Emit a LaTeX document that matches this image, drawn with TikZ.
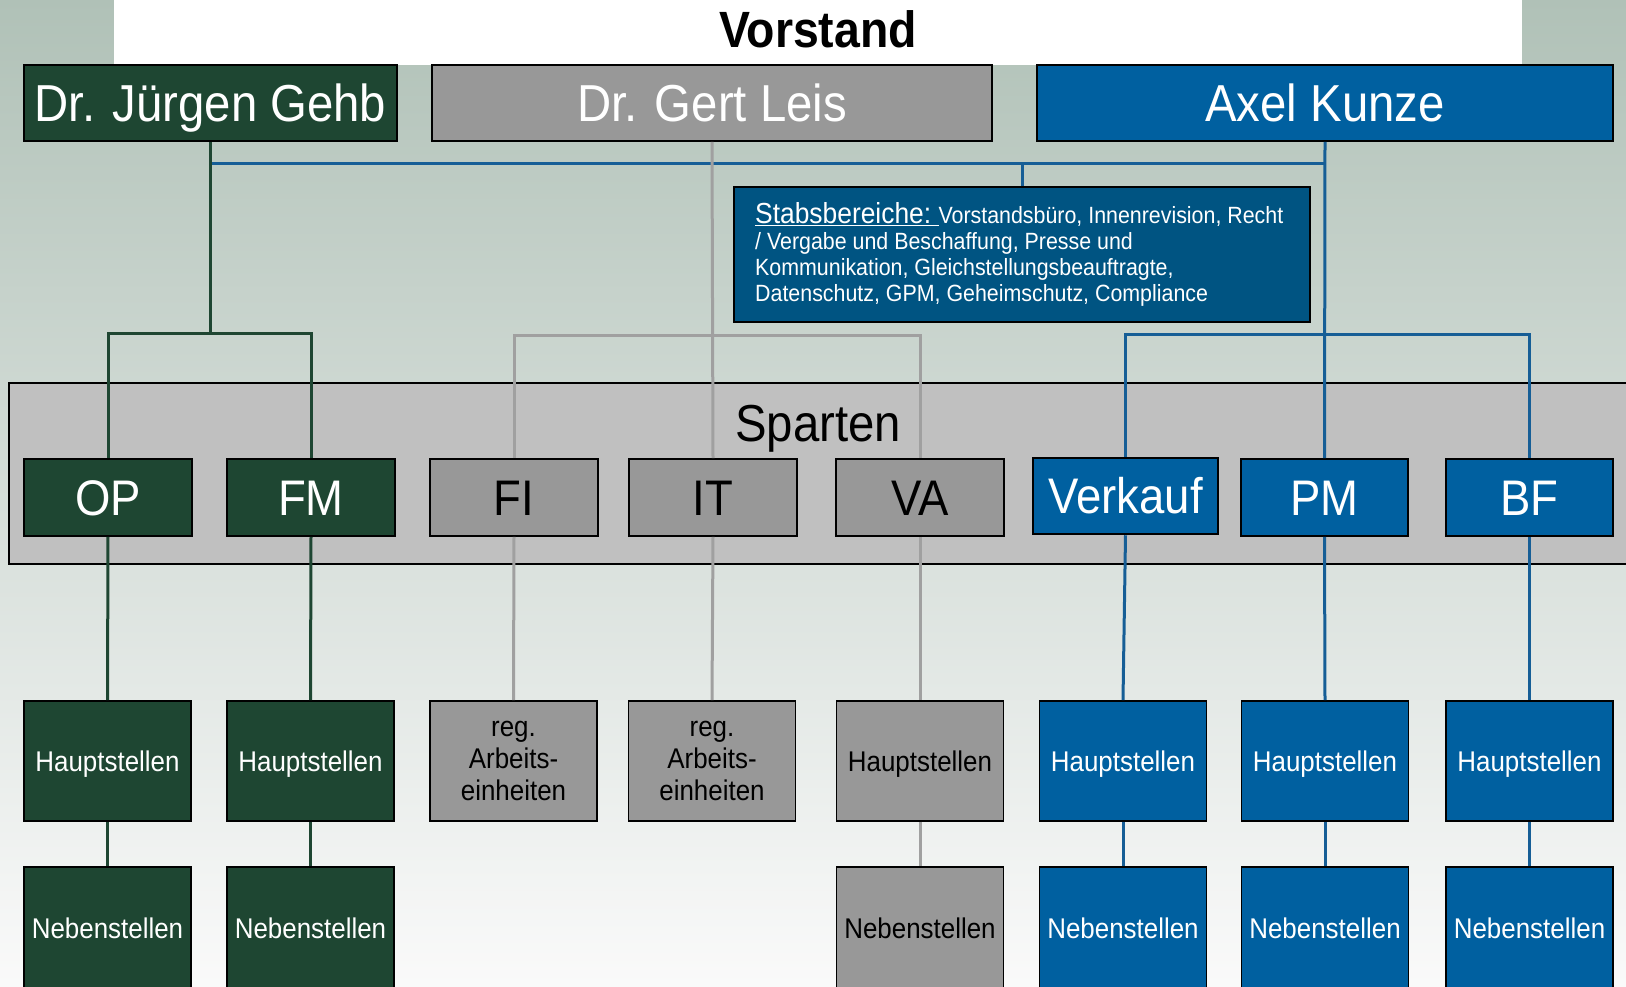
\documentclass[tikz,border=0pt]{standalone}
\usepackage{fontspec}
\setmainfont[FakeStretch=0.91]{Liberation Sans}
\definecolor{dgreen}{RGB}{30,70,50}
\definecolor{mgray}{RGB}{152,152,152}
\definecolor{mblue}{RGB}{0,96,160}
\definecolor{sblue}{RGB}{0,84,130}
\definecolor{lgray}{RGB}{160,160,160}
\definecolor{lblue}{RGB}{22,94,150}
\definecolor{bandgray}{RGB}{192,192,192}
\definecolor{bgtop}{RGB}{176,193,183}
\definecolor{bgbot}{RGB}{250,250,250}
\begin{document}
\begin{tikzpicture}[x=1pt,y=1pt,
  nbox/.style={draw=black, line width=1.6pt, inner sep=0pt, rectangle},
  gbox/.style={nbox, fill=dgreen, text=white},
  ybox/.style={nbox, fill=mgray, text=black},
  bbox/.style={nbox, fill=mblue, text=white},
  fbig/.style={font=\fontsize{52}{60}\selectfont, text height=37.2pt, text depth=0pt},
  fmid/.style={font=\fontsize{50}{58}\selectfont, text height=35.8pt, text depth=0pt},
  fsmall/.style={font=\fontsize{28.5}{32.3}\selectfont, text height=20.4pt, text depth=0pt},
  toprow/.style={fbig, minimum height=76pt},
  spartebox/.style={fmid, minimum width=168pt, minimum height=77pt},
  unitbox/.style={fsmall, minimum width=167pt, minimum height=120pt},
  nebbox/.style={fsmall, minimum width=167pt, minimum height=123pt},
  regbox/.style={font=\fontsize{28.5}{32.3}\selectfont, align=center, minimum width=167pt, minimum height=120pt},
  gline/.style={draw=dgreen, line width=3pt},
  yline/.style={draw=lgray, line width=3pt},
  bline/.style={draw=lblue, line width=3pt},
]
\useasboundingbox (0,0) rectangle (1626,-986);
\clip (0,0) rectangle (1626,-986);
% background
\shade[top color=bgtop, bottom color=bgbot] (0,0) rectangle (1626,-986);
\fill[white] (114,0) rectangle (1522,-65);
\node[font=\bfseries\fontsize{51}{60}\selectfont, anchor=base, inner sep=0pt] (vorstand) at (818,-47) {Vorstand};
% Sparten band
\path[draw=black, line width=1.6pt, fill=bandgray] (9,-383) rectangle (1640,-564);
\node[font=\fontsize{52}{60}\selectfont, anchor=base, inner sep=0pt] (sparten) at (818,-441) {Sparten};

% top row
\node[gbox, toprow, minimum width=373pt] (gehb) at (210.5,-103) {Dr. Jürgen Gehb};
\node[ybox, toprow, minimum width=560pt, text=white] (leis) at (712,-103) {Dr. Gert Leis};
\node[bbox, toprow, minimum width=576pt] (kunze) at (1325,-103) {Axel Kunze};

% Stabsbereiche
\node[nbox, fill=sblue, minimum width=576pt, minimum height=135pt] (stab) at (1022,-254.5) {};
\node[anchor=north west, inner sep=0pt, align=left, text=white, font=\fontsize{23.5}{26}\selectfont] (stabtext) at (755,-202)
  {{\fontsize{29}{26}\selectfont\underline{Stabsbereiche:\ }}Vorstandsbüro, Innenrevision, Recht\\
   / Vergabe und Beschaffung, Presse und\\
   Kommunikation, Gleichstellungsbeauftragte,\\
   Datenschutz, GPM, Geheimschutz, Compliance};

% Sparten row
\node[gbox, spartebox] (op) at (108,-497.5) {OP};
\node[gbox, spartebox] (fm) at (311,-497.5) {FM};
\node[ybox, spartebox] (fi) at (514,-497.5) {FI};
\node[ybox, spartebox] (it) at (713,-497.5) {IT};
\node[ybox, spartebox] (va) at (920,-497.5) {VA};
\node[bbox, spartebox, minimum width=185pt, minimum height=76pt, line width=2.5pt] (verkauf) at (1125.5,-496) {Verkauf};
\node[bbox, spartebox, minimum width=167pt] (pm) at (1324.5,-497.5) {PM};
\node[bbox, spartebox, minimum width=167pt] (bf) at (1529.5,-497.5) {BF};

% Hauptstellen row
\node[gbox, unitbox] (h1) at (107.5,-761) {Hauptstellen};
\node[gbox, unitbox] (h2) at (310.5,-761) {Hauptstellen};
\node[ybox, regbox] (h3) at (513.5,-761) {reg.\\Arbeits-\\einheiten};
\node[ybox, regbox] (h4) at (712,-761) {reg.\\Arbeits-\\einheiten};
\node[ybox, unitbox] (h5) at (920,-761) {Hauptstellen};
\node[bbox, unitbox] (h6) at (1123,-761) {Hauptstellen};
\node[bbox, unitbox] (h7) at (1325,-761) {Hauptstellen};
\node[bbox, unitbox] (h8) at (1529.5,-761) {Hauptstellen};

% Nebenstellen row
\node[gbox, nebbox] (n1) at (107.5,-928.5) {Nebenstellen};
\node[gbox, nebbox] (n2) at (310.5,-928.5) {Nebenstellen};
\node[ybox, nebbox] (n5) at (920,-928.5) {Nebenstellen};
\node[bbox, nebbox] (n6) at (1123,-928.5) {Nebenstellen};
\node[bbox, nebbox] (n7) at (1325,-928.5) {Nebenstellen};
\node[bbox, nebbox] (n8) at (1529.5,-928.5) {Nebenstellen};

% connectors: Vorstand level
\coordinate (bl) at (210.5,-163);
\coordinate (br) at (1325,-163);
\draw[bline] (bl) -- (br);
\draw[bline] (stab.north) -- (stab.north |- br);

\coordinate (gj) at (210.5,-333);
\draw[gline] (gehb.south) -- (gj);
\draw[gline] (op.north) |- (gj) -| (fm.north);

\coordinate (lj) at (712,-335);
\draw[yline] (leis.south) -- (it.north);
\draw[yline] (fi.north) |- (lj) -| (va.north);

\coordinate (kj) at (1325,-334);
\draw[bline] (kunze.south) -- (pm.north);
\draw[bline] (verkauf.north) |- (kj) -| (bf.north);

% connectors: Sparten to units
\draw[gline] (op.south) -- (h1.north);
\draw[gline] (fm.south) -- (h2.north);
\draw[yline] (fi.south) -- (h3.north);
\draw[yline] (it.south) -- (h4.north);
\draw[yline] (va.south) -- (h5.north);
\draw[bline] (verkauf.south) -- (h6.north);
\draw[bline] (pm.south) -- (h7.north);
\draw[bline] (bf.south) -- (h8.north);

% connectors: Haupt to Neben
\draw[gline] (h1.south) -- (n1.north);
\draw[gline] (h2.south) -- (n2.north);
\draw[yline] (h5.south) -- (n5.north);
\draw[bline] (h6.south) -- (n6.north);
\draw[bline] (h7.south) -- (n7.north);
\draw[bline] (h8.south) -- (n8.north);
\end{tikzpicture}
\end{document}
